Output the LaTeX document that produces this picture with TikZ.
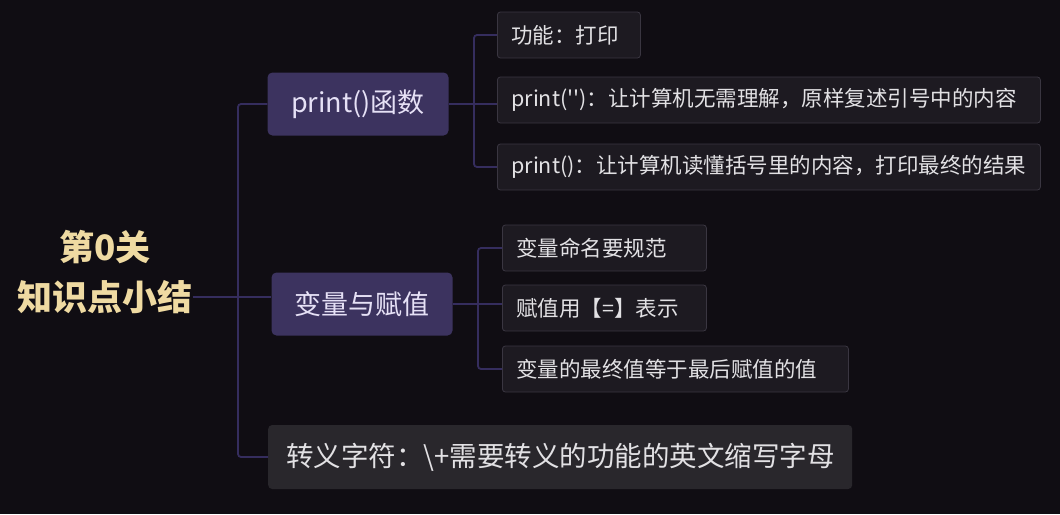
\documentclass[tikz,border=0pt]{standalone}
\usepackage{fontspec}
\setmainfont{Noto Sans CJK SC}
\usepackage{tikz}
\usetikzlibrary{positioning,calc}

\begin{document}
\begin{tikzpicture}[
  x=1pt, y=-1pt,
  font=\fontsize{21.5}{25}\selectfont,
  root/.style={
    font=\fontsize{35}{50}\selectfont\bfseries, text=cGold,
    align=center, inner sep=0pt},
  topic/.style={
    rounded corners=5pt, draw=none, fill=cTopic, text=cTopicTxt,
    minimum width=181pt, minimum height=63pt, inner sep=0pt,
    font=\fontsize{27}{32}\selectfont},
  leaf/.style={
    rounded corners=3pt, draw=cLeafLine, line width=0.8pt, fill=cLeaf,
    text=cTxt, text width=#1, align=left, inner xsep=14pt,
    minimum height=46pt, anchor=west},
  escbox/.style={
    rounded corners=4pt, draw=none, fill=cEsc, text=cTxt,
    text width=548pt, align=left, inner xsep=18pt,
    minimum height=64pt, anchor=west,
    font=\fontsize{27.5}{32}\selectfont},
  link/.style={draw=cLink, line width=1.8pt, rounded corners=3pt}
]

% ---- palette ----
\definecolor{cBg}{HTML}{100D13}
\definecolor{cGold}{HTML}{EFDAA2}
\definecolor{cTopic}{HTML}{3C335F}
\definecolor{cTopicTxt}{HTML}{E6E1F6}
\definecolor{cLeaf}{HTML}{1D1A21}
\definecolor{cLeafLine}{HTML}{3A3641}
\definecolor{cEsc}{HTML}{29272C}
\definecolor{cTxt}{HTML}{E2E1E4}
\definecolor{cLink}{HTML}{352D5E}

% ---- canvas (pixel grid, y downwards) ----
\fill[cBg] (0,0) rectangle (1060,514);

% ================= root =================
\node[root] (root) at (105,272) {第0关\\知识点小结};

% ================= first level =================
\node[topic] (prt) at (358,104) {print()函数};
\node[topic] (var) at (362,304) {变量与赋值};
\node[escbox] (esc) at (268,457) {转义字符：\textbackslash+需要转义的功能的英文缩写字母};

% ================= print() leaves =================
\node[leaf=115pt] (pa) at (497,35)  {功能：打印};
\node[leaf=515pt] (pb) at (497,100) {print(\textquotesingle\textquotesingle)：让计算机无需理解，原样复述引号中的内容};
\node[leaf=515pt] (pc) at (497,167) {print()：让计算机读懂括号里的内容，打印最终的结果};

% ================= variable leaves =================
\node[leaf=176pt] (va) at (502,248) {变量命名要规范};
\node[leaf=176pt] (vb) at (502,308) {赋值用【=】表示};
\node[leaf=318pt] (vc) at (502,369) {变量的最终值等于最后赋值的值};

% ================= connectors =================
\coordinate (trunk) at (238,297);
\coordinate (pj) at (474,104);
\coordinate (vj) at (478,305);

\draw[link] (prt.west) -| (trunk) |- (esc.west);
\draw[link] (root.east |- trunk) -- (var.west |- trunk);
\draw[link] (prt.east) -- (prt.east -| pb.west);
\draw[link] (pa.west) -| (pj) |- (pc.west);
\draw[link] (var.east) -- (var.east -| vb.west);
\draw[link] (va.west) -| (vj) |- (vc.west);

\end{tikzpicture}
\end{document}
